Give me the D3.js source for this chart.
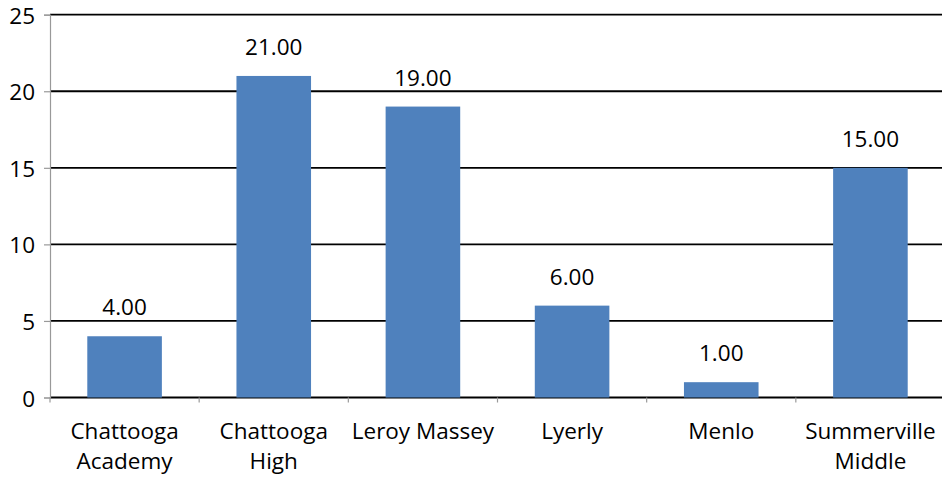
<!DOCTYPE html>
<html>
<head>
<meta charset="utf-8">
<script src="https://cdn.jsdelivr.net/npm/d3@7"></script>
<style>
    body { margin: 0; background: #fff; }
    svg { display: block; }
</style>
</head>
<body>
<div id="chart"></div>
<script>
const categories = [
    ["Chattooga", "Academy"],
    ["Chattooga", "High"],
    ["Leroy Massey"],
    ["Lyerly"],
    ["Menlo"],
    ["Summerville", "Middle"]
];
const values = [4, 21, 19, 6, 1, 15];
const yTicks = [0, 5, 10, 15, 20, 25];

const svgWidth = 942;
const svgHeight = 482;
const plotLeft = 50;
const plotRight = 945;
const plotTop = 14.7;
const plotBottom = 397.5;
const fontFamily = "'Open Sans', Lato, sans-serif";
const fontSize = "22.5px";

const svg = d3.select("#chart")
    .append("svg")
    .attr("width", svgWidth)
    .attr("height", svgHeight);

const names = categories.map(c => c.join(" "));

const xScale = d3.scaleBand()
    .domain(names)
    .range([plotLeft, plotRight])
    .paddingInner(0.5)
    .paddingOuter(0.25);

const yScale = d3.scaleLinear()
    .domain([0, 25])
    .range([plotBottom, plotTop]);

// gridlines
svg.append("g")
    .selectAll("line")
    .data(yTicks)
    .enter()
    .append("line")
    .attr("x1", plotLeft)
    .attr("x2", svgWidth)
    .attr("y1", d => yScale(d))
    .attr("y2", d => yScale(d))
    .attr("stroke", "#000")
    .attr("stroke-width", 1.8);

// y axis
const yAxisGroup = svg.append("g")
    .attr("transform", `translate(${plotLeft}, 0)`)
    .call(d3.axisLeft(yScale).tickValues(yTicks).tickSize(6).tickPadding(9));

yAxisGroup.select(".domain").attr("stroke", "#999").attr("stroke-width", 1.2);
yAxisGroup.selectAll(".tick line").attr("stroke", "#999").attr("stroke-width", 1.2);
yAxisGroup.selectAll("text")
    .attr("fill", "#000")
    .attr("dy", "0.38em")
    .attr("font-size", fontSize)
    .attr("font-family", fontFamily);

// x axis ticks at category boundaries
const step = xScale.step();
const boundaries = d3.range(names.length + 1).map(i => plotLeft + i * step);
svg.append("g")
    .selectAll("line")
    .data(boundaries)
    .enter()
    .append("line")
    .attr("x1", d => d)
    .attr("x2", d => d)
    .attr("y1", plotBottom)
    .attr("y2", plotBottom + 5)
    .attr("stroke", "#999")
    .attr("stroke-width", 1.2);

// bars
svg.append("g")
    .selectAll("rect")
    .data(values)
    .enter()
    .append("rect")
    .attr("x", (d, i) => xScale(names[i]))
    .attr("y", d => yScale(d))
    .attr("width", xScale.bandwidth())
    .attr("height", d => yScale(0) - yScale(d))
    .attr("fill", "#4F81BD");

// value labels
svg.append("g")
    .selectAll("text")
    .data(values)
    .enter()
    .append("text")
    .attr("x", (d, i) => xScale(names[i]) + xScale.bandwidth() / 2)
    .attr("y", d => yScale(d) - 21)
    .attr("text-anchor", "middle")
    .attr("font-size", fontSize)
    .attr("font-family", fontFamily)
    .attr("fill", "#000")
    .text(d => d.toFixed(2));

// category labels
const catLabels = svg.append("g")
    .selectAll("text")
    .data(categories)
    .enter()
    .append("text")
    .attr("x", (d, i) => xScale(names[i]) + xScale.bandwidth() / 2)
    .attr("y", 439)
    .attr("text-anchor", "middle")
    .attr("font-size", fontSize)
    .attr("font-family", fontFamily)
    .attr("fill", "#000");

catLabels.selectAll("tspan")
    .data(d => d)
    .enter()
    .append("tspan")
    .attr("x", function () { return d3.select(this.parentNode).attr("x"); })
    .attr("dy", (d, i) => i === 0 ? 0 : 30)
    .text(d => d);
</script>
</body>
</html>
